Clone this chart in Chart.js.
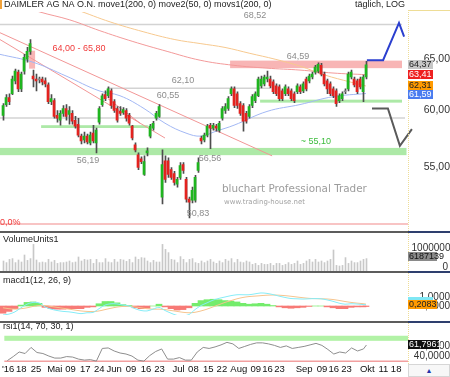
<!DOCTYPE html>
<html>
<head>
<meta charset="utf-8">
<script src="https://cdn.jsdelivr.net/npm/chart.js@4.4.1/dist/chart.umd.min.js"></script>
<style>
  html, body { margin: 0; padding: 0; background: #fff; }
  #wrap { position: relative; width: 450px; height: 377px; overflow: hidden; background: #fff; }
  #wrap canvas { position: absolute; left: 0; }
  .sep { position: absolute; left: 0; width: 408px; height: 2px; background: #5c5c5c; }
  .sepr { position: absolute; left: 408px; width: 42px; height: 2px; background: #2e3f6e; }
  #corner { position: absolute; left: 408px; top: 364px; width: 40px; height: 11px; border: 1px solid #d6d6d6; background: #f7f7f7;
            font: 7px "Liberation Sans", Arial, sans-serif; color: #2233aa; text-align: center; line-height: 11px; }
  #flag { position: absolute; left: 0; top: 0; width: 2px; height: 9px; background: #f2a23a; }
</style>
</head>
<body>
<div id="wrap">
  <canvas id="price" width="450" height="231" style="top:0"></canvas>
  <canvas id="vol" width="450" height="38" style="top:233px"></canvas>
  <canvas id="macd" width="450" height="48" style="top:273px"></canvas>
  <canvas id="rsi" width="450" height="54" style="top:323px"></canvas>
  <div class="sep" style="top:231px"></div><div class="sepr" style="top:231px"></div>
  <div class="sep" style="top:271px"></div><div class="sepr" style="top:271px"></div>
  <div class="sep" style="top:321px"></div><div class="sepr" style="top:321px"></div>
  <div id="corner">&#9650;</div>
  <div id="flag"></div>
</div>
<script>
const FONT = '"Liberation Sans", Arial, sans-serif';
Chart.defaults.font.family = FONT;
Chart.defaults.font.size = 9;
Chart.defaults.animation = false;
Chart.defaults.events = [];
Chart.defaults.plugins.legend.display = false;
Chart.defaults.plugins.tooltip.enabled = false;

// daily candles, mid April 2016 .. 06 Oct 2016 (one entry per trading day)
const OPEN = [59.55,60.55,61.20,61.57,62.80,63.66,62.04,63.76,64.94,65.73,
  63.28,62.99,62.90,62.99,62.80,62.42,60.83,60.92,59.55,59.10,
  59.73,60.18,59.64,59.73,59.10,58.74,57.67,57.33,57.67,57.07,
  57.94,57.07,58.92,60.55,61.48,61.38,61.85,60.83,60.18,59.91,
  59.82,60.00,59.55,58.56,56.89,56.03,55.69,54.36,56.20,57.67,
  58.38,59.28,59.46,52.49,55.52,55.52,54.77,54.44,53.54,54.11,
  55.19,53.95,52.33,52.25,52.25,54.69,57.50,57.33,57.76,58.65,
  58.38,58.56,58.20,59.28,60.00,60.18,61.57,62.04,61.57,60.64,
  60.46,59.73,59.46,60.46,60.92,61.38,62.32,62.51,62.99,62.99,
  62.70,62.32,62.23,61.85,61.57,62.04,61.85,61.57,61.76,62.23,
  61.85,62.99,62.80,63.18,63.66,63.76,64.34,63.47,62.80,62.51,
  62.04,61.85,60.92,61.10,61.76,62.04,63.18,62.99,62.80,62.99,
  61.76,63.18];
const HIGH = [60.64,61.48,61.57,63.28,63.95,63.86,63.66,65.43,66.13,66.94,
  63.86,63.47,63.18,63.18,63.09,62.61,61.48,61.10,60.00,60.00,
  60.46,60.55,60.37,60.00,59.46,59.28,57.85,58.03,57.85,58.03,
  58.65,58.38,60.37,61.57,61.85,62.23,62.04,61.01,60.37,60.37,
  60.27,60.18,59.73,58.65,57.07,56.20,55.86,55.94,56.63,58.74,
  59.01,59.91,60.55,56.46,55.94,55.78,54.94,54.61,54.11,55.36,
  55.36,54.11,52.49,53.30,54.28,55.78,57.67,57.94,58.74,58.83,
  58.83,58.74,59.01,60.37,60.64,61.29,62.23,62.23,61.76,60.83,
  60.64,59.91,60.55,61.48,61.76,63.18,63.28,63.37,63.76,63.28,
  62.90,62.51,62.42,62.04,62.42,62.23,62.04,61.76,62.51,62.42,
  62.70,63.18,63.47,63.66,64.34,64.59,64.54,63.66,62.99,62.70,
  62.23,62.04,61.57,61.76,62.04,63.66,63.86,63.18,62.99,63.18,
  63.37,64.74];
const LOW = [59.10,60.37,60.55,61.48,62.51,61.76,61.76,63.47,64.64,65.43,
  62.23,61.85,62.61,62.42,62.23,60.64,60.55,59.28,58.92,58.65,
  59.46,59.10,58.74,58.74,58.38,57.59,56.98,57.07,56.98,56.89,
  57.07,56.19,58.74,60.37,60.92,61.20,60.18,59.82,58.92,59.55,
  59.64,59.01,58.65,57.33,56.29,54.77,55.27,54.28,55.94,57.50,
  58.20,59.10,59.37,51.93,53.70,54.11,53.95,53.46,53.30,53.95,
  54.44,52.09,50.83,52.01,52.09,54.52,56.98,57.15,57.59,56.56,
  58.20,58.11,58.03,59.10,59.73,60.00,61.38,60.27,60.18,59.55,
  58.11,58.83,59.28,60.27,60.73,61.29,62.13,62.32,62.70,62.13,
  61.57,61.38,60.92,60.92,61.38,61.38,60.92,60.73,61.57,61.57,
  61.67,61.85,62.61,62.99,63.47,63.57,63.28,62.32,61.57,61.38,
  61.20,60.37,60.73,60.92,61.57,61.85,62.99,62.23,61.57,62.04,
  60.83,62.99];
const CLOSE = [60.46,61.20,60.83,62.99,63.76,62.04,63.47,65.13,65.73,66.53,
  62.99,62.80,62.99,62.70,62.51,60.83,61.10,59.46,59.28,59.73,
  60.18,59.46,60.00,59.01,58.56,57.76,57.24,57.67,57.15,57.76,
  57.24,58.20,60.18,61.38,61.10,62.04,60.46,60.00,59.10,59.73,
  60.09,59.28,58.83,57.50,56.46,54.94,55.44,55.44,56.38,58.56,
  58.83,59.73,60.37,55.19,53.95,54.36,54.11,53.70,53.95,55.11,
  54.69,52.33,52.09,53.05,54.11,55.36,57.24,57.76,58.56,58.38,
  58.65,58.38,58.83,60.18,60.37,61.10,62.04,60.46,60.46,59.73,
  59.01,59.01,60.37,61.29,61.57,62.99,62.99,63.18,63.18,62.32,
  61.76,61.57,61.10,61.10,62.23,61.57,61.10,60.92,62.32,61.76,
  62.51,62.04,63.28,63.47,64.15,64.44,63.47,62.51,62.04,61.57,
  61.38,60.64,61.38,61.57,61.85,63.47,63.66,62.42,61.76,62.23,
  63.18,64.37];
// volume in millions of shares
const VOLUME_M = [5.0,4.2,5.8,6.2,4.2,5.5,4.5,8.0,5.3,6.2,
  13.3,5.5,4.2,4.5,4.2,5.8,4.5,5.3,3.8,4.2,
  4.2,4.5,5.0,4.2,4.5,7.0,5.0,5.8,5.5,5.8,
  3.8,5.8,4.2,4.2,6.2,4.5,4.2,5.8,4.5,5.8,
  5.5,4.8,5.8,4.2,7.0,5.8,6.7,6.5,5.0,4.2,
  5.3,4.5,4.5,13.3,10.8,9.2,5.8,5.5,4.2,7.2,
  5.8,4.2,5.8,6.2,4.2,3.8,5.0,4.2,5.0,5.8,
  4.5,3.8,5.0,4.2,5.8,5.0,6.2,4.2,5.8,4.5,
  4.2,5.0,4.5,3.3,3.8,2.8,3.8,3.3,3.3,3.8,
  2.8,3.8,3.8,2.8,3.3,4.2,3.3,3.8,5.0,3.3,
  3.8,5.0,5.8,4.5,5.8,4.5,5.0,4.2,5.0,5.8,
  10.5,2.8,2.5,2.8,6.7,3.8,5.0,4.2,4.2,5.0,
  5.8,6.187139];

// moving averages, read at sample days
const MA200_DAY = [2.3, 12.3, 22.3, 32.3, 43.3, 54.7, 65.7, 76.7, 88, 99, 110, 121];
const MA200 = [70.92, 69.85, 69.00, 67.86, 66.74, 65.73, 64.84, 64.34, 64.05, 63.86, 63.57, 63.41];
const MOVS200_DAY = [19, 24.7, 35.7, 46.7, 57.3, 65.7, 74, 82.3, 90.7, 99, 107.3, 115.7, 121];
const MOVS200 = [70.6, 70.06, 68.79, 67.76, 66.94, 66.53, 66.13, 65.53, 64.94, 64.25, 63.37, 62.70, 62.31];
const MA50_DAY = [-1, 10, 21, 32, 39, 47, 54, 61, 66, 71, 77, 88, 99, 110, 121];
const MA50 = [65.43, 64.64, 63.28, 61.85, 61.38, 60.18, 58.83, 57.94, 57.67, 58.11, 58.65, 59.91, 60.55, 61.29, 61.59];

// drawn trend lines and the projection arrows: [day, price] pairs
const TREND_A = [[-1, 67.65], [89.7, 55.94]];
const TREND_B = [[-1, 66.94], [54, 57.50]];
const TREND_C = [[35, 61.10], [45.7, 58.83]];
const PROJ_UP = [[121.3, 64.84], [126.7, 64.84], [132, 68.69], [133.7, 67.24]];
const PROJ_DOWN = [[123, 60.18], [128.3, 60.18], [132.3, 56.81], [136.3, 58.29]];

// indicators, every second trading day
const IND_DAY = [0,2,4,6,8,10,12,14,16,18,20,22,24,26,28,30,32,34,36,38,40,42,44,46,48,50,52,54,56,58,60,
  62,64,66,68,70,72,74,76,78,80,82,84,86,88,90,92,94,96,98,100,102,104,106,108,110,112,114,116,118,120,121];
const MACD = [-1.0,-0.9,-0.65,-0.2,0.2,0.4,0.35,-0.1,-0.35,-0.5,-0.6,-0.65,-0.75,-0.85,-0.75,-0.72,-0.3,0.1,0.25,0.23,
  0.1,0.0,-0.3,-0.5,-0.55,-0.35,-0.15,-0.5,-0.8,-1.05,-1.1,-0.95,-0.4,0.05,0.35,0.65,0.85,1.0,1.15,1.25,
  1.25,1.25,1.35,1.45,1.4,1.27,1.1,0.95,0.83,0.8,0.77,0.8,0.82,0.8,0.68,0.52,0.32,0.2,0.25,0.22,0.16,0.15];
const SIGNAL = [-0.2,-0.3,-0.35,-0.3,-0.2,-0.05,0.05,0.05,-0.05,-0.15,-0.25,-0.35,-0.45,-0.55,-0.6,-0.62,-0.55,-0.4,-0.25,-0.12,
  -0.05,-0.05,-0.1,-0.2,-0.3,-0.35,-0.35,-0.4,-0.5,-0.6,-0.7,-0.75,-0.7,-0.55,-0.35,-0.1,0.15,0.4,0.6,0.8,
  0.95,1.05,1.1,1.15,1.2,1.22,1.2,1.15,1.08,1.0,0.92,0.85,0.82,0.8,0.78,0.72,0.62,0.5,0.4,0.32,0.26,0.2083];
const HIST = [-0.8,-0.6,-0.3,0.1,0.4,0.45,0.3,-0.15,-0.3,-0.35,-0.35,-0.3,-0.3,-0.3,-0.15,-0.1,0.25,0.5,0.5,0.35,
  0.15,0.05,-0.2,-0.3,-0.25,0.0,0.2,-0.1,-0.3,-0.45,-0.4,-0.2,0.3,0.6,0.7,0.75,0.7,0.6,0.55,0.45,
  0.3,0.2,0.25,0.3,0.2,0.05,-0.1,-0.2,-0.25,-0.2,-0.15,-0.05,0.0,0.0,-0.1,-0.2,-0.3,-0.3,-0.15,-0.1,-0.1,-0.06];
const RSI = [31,39,48,45,57,47,45,40,36,36,39,38,34,32,33,30,55,56,50,46,44,40,32,30,41,49,54,34,34,37,32,
  32,48,57,55,58,62,67,64,55,59,63,66,66,64,61,57,60,55,57,59,62,65,61,53,44,48,46,56,50,54,61.7961];

const X_TICK_DAY = [0.3, 4.7, 9.7, 16, 21.3, 26.3, 31, 36, 41.7, 46.7, 51.3, 57.7, 62.7, 67.7, 72.3,
  78, 83.7, 87.7, 91.7, 100, 106, 110, 114.3, 121.3, 126.7, 131];
const X_TICK_LABELS = ["'16", '18', '25', 'Mai', '09', '17', '24', 'Jun', '09', '16', '23', 'Jul', '08', '15', '22',
  'Aug', '09', '16', '23', 'Sep', '09', '16', '23', 'Okt', '11', '18'];
const PRICE_TICKS = [55, 60, 65];

// annotations drawn on the price panel
const LEVELS = [ // price, from day, to day, colour
  [68.52, -1, 133, '#d3d3d3'],
  [62.10, 34.7, 89, '#d3d3d3'],
  [59.30, -1, 134, '#d3d3d3'],
  [50.36, -1, 135, '#f6b0b0'],
];
const ZONES = [ // low, high, from day, to day, colour
  [64.00, 65.80, 8.7, 10.7, 'rgba(243,120,120,0.55)'],
  [64.05, 64.80, 75.7, 133, 'rgba(243,120,120,0.55)'],
  [58.40, 58.65, 12.7, 48.3, 'rgba(105,215,95,0.55)'],
  [56.00, 56.63, -1, 134.5, 'rgba(105,215,95,0.55)'],
  [60.73, 61.01, 85.7, 133, 'rgba(105,215,95,0.55)'],
];
const NOTES = [ // text, day, price, colour, align
  ['68,52', 84, 69.42, '#8c8c8c', 'center'],
  ['64,59', 98.3, 65.23, '#8c8c8c', 'center'],
  ['62,10', 60, 62.80, '#8c8c8c', 'center'],
  ['60,55', 55, 61.38, '#8c8c8c', 'center'],
  ['56,19', 28.3, 55.52, '#8c8c8c', 'center'],
  ['56,56', 69, 55.69, '#8c8c8c', 'center'],
  ['50,83', 65, 51.15, '#8c8c8c', 'center'],
  ['64,00 - 65,80', 25.3, 66.03, '#f03a3a', 'center'],
  ['~ 55,10', 104.3, 57.15, '#3cbc3c', 'center'],
  ['0,0%', -1, 50.47, '#f03a3a', 'left'],
];

const X_MIN = -1, X_MAX = 135;   // trading-day range of the plot (3 px per day)
const HALF = 1 / 6;              // half a pixel in days, keeps 1px marks crisp
const DAYS = OPEN.map((_, i) => i);
const de = (v, d) => v.toFixed(d).replace('.', ',');
const pts = pairs => pairs.map(p => ({ x: p[0], y: p[1] }));
const zip = (xs, ys) => xs.map((x, k) => ({ x, y: ys[k] }));

function rightRule(chart, top) {
  const { ctx, chartArea: a } = chart;
  ctx.save();
  ctx.strokeStyle = '#eedd96';
  ctx.setLineDash([1, 1]);
  ctx.beginPath();
  ctx.moveTo(a.right + 0.5, top);
  ctx.lineTo(a.right + 0.5, chart.height);
  ctx.stroke();
  ctx.restore();
}
function title(ctx, text, y) {
  ctx.save();
  ctx.font = '9px ' + FONT; ctx.fillStyle = '#222';
  ctx.textAlign = 'left'; ctx.textBaseline = 'middle';
  ctx.fillText(text, 3, y);
  ctx.restore();
}
function boxes(ctx, x, list) {
  // list: [value pixel, text, bg, fg, width]; stacked so they never overlap
  list.sort((p, q) => p[0] - q[0]);
  let last = -1e9;
  ctx.save();
  ctx.font = '9px ' + FONT; ctx.textAlign = 'left'; ctx.textBaseline = 'middle';
  list.forEach(b => {
    let top = Math.round(b[0] - 4.5);
    if (top < last) top = last;
    ctx.fillStyle = b[2]; ctx.fillRect(x, top, b[4], 9);
    if (b[1]) { ctx.fillStyle = b[3]; ctx.fillText(b[1], x + 1, top + 5); }
    last = top + 9;
  });
  ctx.restore();
}
function rightAxis(extra) {
  return Object.assign({
    position: 'right',
    afterFit: s => { s.width = 42; },
    grid: { display: false, drawTicks: false }, border: { display: false },
  }, extra);
}
const xLin = (min, max, extra) => Object.assign({ type: 'linear', min, max, offset: false, display: false,
  grid: { display: false, drawTicks: false }, border: { display: false } }, extra || {});

// ---------------- price panel ----------------
const priceDecor = {
  id: 'priceDecor',
  beforeDatasetsDraw(chart) {
    const { ctx, chartArea: a, scales: { x, y } } = chart;
    ctx.save();
    ctx.beginPath(); ctx.rect(a.left, a.top - 2, a.right - a.left, a.bottom - a.top + 4); ctx.clip();
    ZONES.forEach(z => {
      const x0 = x.getPixelForValue(z[2]), x1 = x.getPixelForValue(z[3]);
      const y0 = y.getPixelForValue(z[1]), y1 = y.getPixelForValue(z[0]);
      ctx.fillStyle = z[4]; ctx.fillRect(x0, y0, x1 - x0, y1 - y0);
    });
    LEVELS.forEach(l => {
      const yy = y.getPixelForValue(l[0]);
      ctx.strokeStyle = l[3]; ctx.lineWidth = 1.6;
      ctx.beginPath(); ctx.moveTo(x.getPixelForValue(l[1]), yy); ctx.lineTo(x.getPixelForValue(l[2]), yy); ctx.stroke();
    });
    ctx.restore();
  },
  afterDatasetsDraw(chart) {
    const { ctx, chartArea: a, scales: { x, y } } = chart;
    ctx.save();
    ctx.textBaseline = 'middle';
    NOTES.forEach(n => {
      ctx.font = '9px ' + FONT; ctx.fillStyle = n[3]; ctx.textAlign = n[4];
      ctx.fillText(n[0], x.getPixelForValue(n[1]), y.getPixelForValue(n[2]));
    });
    // watermark
    const fit = (t, w, fam) => { ctx.font = '10px ' + fam; return 10 * w / ctx.measureText(t).width; };
    const wm1 = 'bluchart Professional Trader', wm2 = 'www.trading-house.net';
    ctx.fillStyle = '#9c9c9c'; ctx.textAlign = 'left';
    ctx.font = fit(wm1, 145, '"DejaVu Sans"').toFixed(2) + 'px "DejaVu Sans"';
    ctx.fillText(wm1, x.getPixelForValue(73), y.getPixelForValue(53.13));
    ctx.fillStyle = '#a4a4a4';
    ctx.font = fit(wm2, 81, '"DejaVu Sans"').toFixed(2) + 'px "DejaVu Sans"';
    ctx.fillText(wm2, x.getPixelForValue(73.7), y.getPixelForValue(52.09));
    // header
    ctx.font = '9px ' + FONT; ctx.fillStyle = '#222';
    ctx.fillText('DAIMLER AG NA O.N. move1(200, 0) move2(50, 0) movs1(200, 0)', 4, 5);
    ctx.textAlign = 'right';
    ctx.fillText('täglich, LOG', a.right - 3, 5);
    ctx.restore();
    rightRule(chart, 10);
    ctx.save();
    ctx.strokeStyle = '#eedd96'; ctx.beginPath(); ctx.moveTo(a.right, 10.5); ctx.lineTo(chart.width, 10.5); ctx.stroke();
    ctx.restore();
    boxes(ctx, a.right, [
      [y.getPixelForValue(CLOSE[CLOSE.length - 1]), de(CLOSE[CLOSE.length - 1], 2), '#c6c6c6', '#222', 25],
      [y.getPixelForValue(MA200[MA200.length - 1]), de(MA200[MA200.length - 1], 2), '#ee2020', '#fff', 25],
      [y.getPixelForValue(MOVS200[MOVS200.length - 1]), de(MOVS200[MOVS200.length - 1], 2), '#ff9a00', '#222', 25],
      [y.getPixelForValue(MA50[MA50.length - 1]), de(MA50[MA50.length - 1], 2), '#4a7cf0', '#fff', 25],
    ]);
  }
};

const lineDs = (data, color, width, order, extra) => Object.assign({
  type: 'line', xAxisID: 'x', data, borderColor: color, borderWidth: width, pointRadius: 0,
  fill: false, order }, extra || {});

new Chart(document.getElementById('price'), {
  type: 'bar',
  data: {
    datasets: [
      { type: 'bar', xAxisID: 'x', data: DAYS.map(i => ({ x: i, y: [OPEN[i], CLOSE[i]] })),
        backgroundColor: DAYS.map(i => Math.abs(CLOSE[i] - OPEN[i]) < 0.1 ? '#8c8c8c' : (CLOSE[i] > OPEN[i] ? '#1fb51f' : '#e3221f')),
        barThickness: 2, grouped: false, minBarLength: 1, order: 0 },
      { type: 'bar', xAxisID: 'xw', data: DAYS.map(i => ({ x: i, y: [LOW[i], HIGH[i]] })),
        backgroundColor: '#4d4d4d', barThickness: 1, grouped: false, order: 1 },
      lineDs(zip(MA50_DAY, MA50), '#a3b8f4', 1, 3, { tension: 0.4 }),
      lineDs(zip(MA200_DAY, MA200), '#f39a9a', 1, 4, { tension: 0.4 }),
      lineDs(zip(MOVS200_DAY, MOVS200), '#f7c98f', 1, 5, { tension: 0.4 }),
      lineDs(pts(TREND_A), '#f29696', 1, 6),
      lineDs(pts(TREND_B), '#f29696', 1, 6),
      lineDs(pts(TREND_C), '#f29696', 1, 6),
      lineDs(pts(PROJ_UP), '#2b3fcf', 2, 2),
      lineDs(pts(PROJ_DOWN), '#5a5a5a', 2, 2, { clip: false }),
    ]
  },
  options: {
    responsive: false,
    layout: { padding: { top: 12, bottom: 3, left: 0, right: 0 } },
    scales: {
      x: xLin(X_MIN, X_MAX),
      xw: xLin(X_MIN - HALF, X_MAX - HALF),
      y: rightAxis({
        type: 'logarithmic', min: 50.3, max: 69.85,
        afterBuildTicks: s => { s.ticks = PRICE_TICKS.map(v => ({ value: v })); },
        ticks: { callback: v => de(v, 2), font: { size: 10.5 }, color: '#333', padding: 0, crossAlign: 'far' }
      })
    }
  },
  plugins: [priceDecor]
});

// ---------------- volume panel ----------------
new Chart(document.getElementById('vol'), {
  type: 'bar',
  data: { datasets: [{ xAxisID: 'xw', data: DAYS.map(i => ({ x: i, y: VOLUME_M[i] })),
    backgroundColor: '#c8c8c8', barThickness: 1, grouped: false }] },
  options: {
    responsive: false,
    layout: { padding: 0 },
    scales: {
      xw: xLin(X_MIN - HALF, X_MAX - HALF),
      y: rightAxis({ min: 0, max: 19, ticks: { display: false } })
    }
  },
  plugins: [{
    id: 'volDecor',
    afterDatasetsDraw(chart) {
      const { ctx, chartArea: a, scales: { y } } = chart;
      title(ctx, 'VolumeUnits1', 7);
      rightRule(chart, 0);
      ctx.save();
      ctx.font = '10px ' + FONT; ctx.fillStyle = '#333'; ctx.textAlign = 'right'; ctx.textBaseline = 'middle';
      ctx.fillText(String(10 * 1e6), chart.width + 6, y.getPixelForValue(10) - 3);
      ctx.fillText('0', chart.width - 2, y.getPixelForValue(0) - 4);
      ctx.restore();
      const last = VOLUME_M[VOLUME_M.length - 1];
      boxes(ctx, a.right, [[y.getPixelForValue(last) - 2, String(Math.round(last * 1e6)), '#8a8a8a', '#111', 29]]);
    }
  }]
});

// ---------------- MACD panel ----------------
new Chart(document.getElementById('macd'), {
  type: 'bar',
  data: { datasets: [
    { type: 'line', xAxisID: 'x', data: zip(IND_DAY, MACD), borderColor: '#86ecf7', borderWidth: 1, pointRadius: 0, tension: 0.3, order: 0 },
    { type: 'line', xAxisID: 'x', data: zip(IND_DAY, SIGNAL), borderColor: '#f6c48e', borderWidth: 1, pointRadius: 0, tension: 0.3, order: 1 },
    { type: 'bar', xAxisID: 'x', data: zip(IND_DAY, HIST), barThickness: 6, grouped: false, order: 2,
      backgroundColor: HIST.map(v => v >= 0 ? '#74ec6c' : '#f77a76') },
  ] },
  options: {
    responsive: false,
    layout: { padding: 0 },
    scales: {
      x: xLin(X_MIN, X_MAX),
      y: rightAxis({ min: -1.0, max: 3.0,
        afterBuildTicks: s => { s.ticks = [0, 1].map(v => ({ value: v })); },
        ticks: { callback: v => de(v, 4), font: { size: 10 }, color: '#333', padding: 0, crossAlign: 'far' } })
    }
  },
  plugins: [{
    id: 'macdDecor',
    afterDatasetsDraw(chart) {
      const { ctx, chartArea: a, scales: { y } } = chart;
      title(ctx, 'macd1(12, 26, 9)', 8);
      rightRule(chart, 0);
      const sy = y.getPixelForValue(SIGNAL[SIGNAL.length - 1]);
      ctx.save();
      ctx.fillStyle = '#7fe7f4'; ctx.fillRect(a.right, Math.round(sy - 4.5) - 3, 25, 3);
      ctx.restore();
      boxes(ctx, a.right, [[sy, de(SIGNAL[SIGNAL.length - 1], 4), '#ff9a00', '#222', 29]]);
    }
  }]
});

// ---------------- RSI panel + time axis ----------------
new Chart(document.getElementById('rsi'), {
  type: 'line',
  data: { datasets: [
    { xAxisID: 'x', data: zip(IND_DAY, RSI), borderColor: '#8e8e8e', borderWidth: 1, pointRadius: 0, tension: 0 },
  ] },
  options: {
    responsive: false,
    layout: { padding: 0 },
    scales: {
      x: xLin(X_MIN, X_MAX, {
        display: true,
        afterBuildTicks: s => { s.ticks = X_TICK_DAY.map(v => ({ value: v })); },
        afterFit: s => { s.height = 15; },
        ticks: { callback: (v, i) => X_TICK_LABELS[i], autoSkip: false, maxRotation: 0, minRotation: 0,
                 font: { size: 9.5 }, color: '#111', padding: 2 }
      }),
      y: rightAxis({ min: 28.3, max: 93.3,
        afterBuildTicks: s => { s.ticks = [40, 60].map(v => ({ value: v })); },
        ticks: { callback: v => de(v, 4), font: { size: 10 }, color: '#333', padding: 0, crossAlign: 'far' } })
    }
  },
  plugins: [{
    id: 'rsiDecor',
    beforeDatasetsDraw(chart) {
      const { ctx, chartArea: a, scales: { y } } = chart;
      ctx.save();
      ctx.fillStyle = '#b2f2a6';
      const t = y.getPixelForValue(80), b = y.getPixelForValue(70);
      ctx.fillRect(a.left, t, a.right - a.left, b - t);
      ctx.strokeStyle = '#f2a0a0'; ctx.lineWidth = 1.5;
      const l = y.getPixelForValue(30);
      ctx.beginPath(); ctx.moveTo(a.left, l); ctx.lineTo(a.right, l); ctx.stroke();
      ctx.restore();
    },
    afterDatasetsDraw(chart) {
      const { ctx, chartArea: a, scales: { y } } = chart;
      title(ctx, 'rsi1(14, 70, 30, 1)', 4);
      rightRule(chart, 0);
      const last = RSI[RSI.length - 1];
      boxes(ctx, a.right, [[y.getPixelForValue(last), de(last, 4), '#111', '#fff', 31]]);
    }
  }]
});
</script>
</body>
</html>
